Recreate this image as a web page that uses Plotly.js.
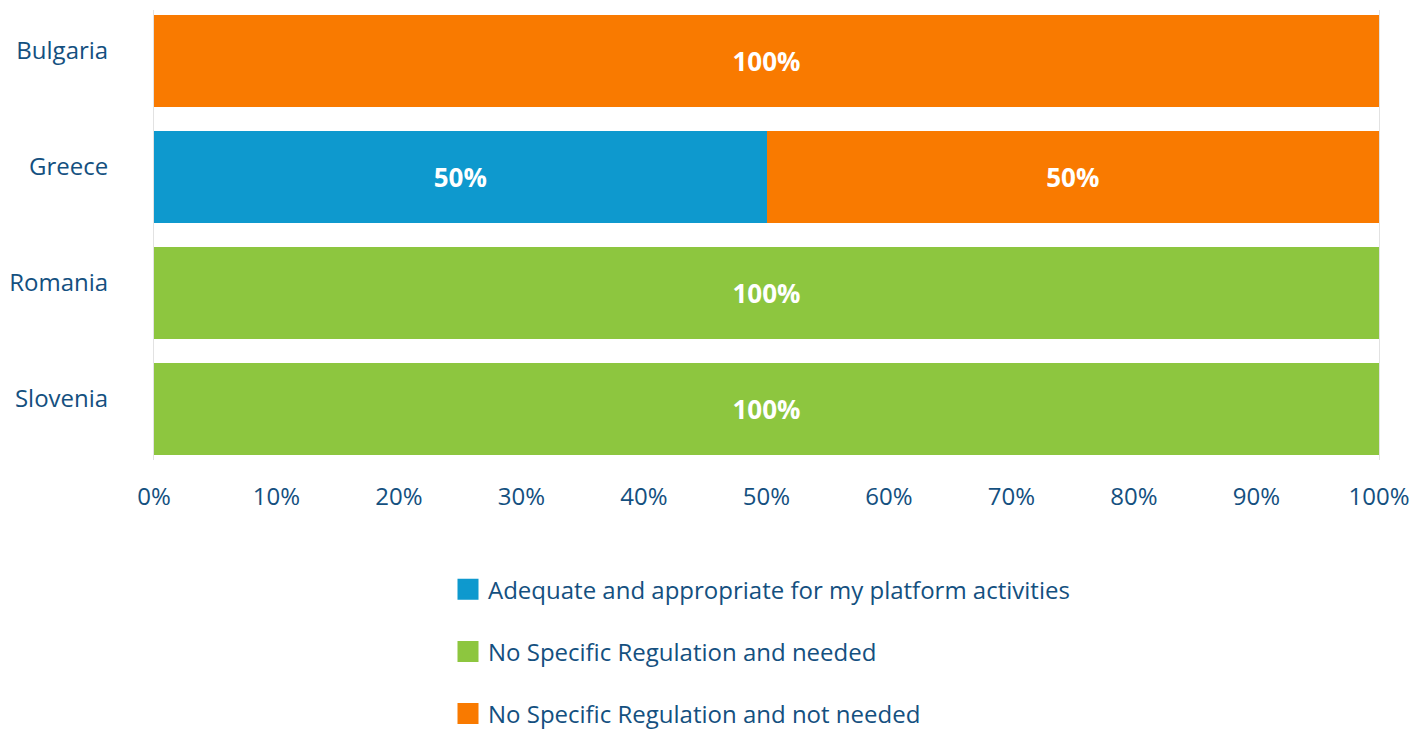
<!DOCTYPE html>
<html>
<head>
<meta charset="utf-8">
<script src="https://cdn.plot.ly/plotly-3.0.1.min.js"></script>
<style>
  html, body { margin: 0; padding: 0; background: #fff; }
  #chart { width: 1427px; height: 729px; }
</style>
</head>
<body>
<div id="chart"></div>
<script>
// Stacked horizontal bars, share of responses by country.
const countries = ["Bulgaria", "Greece", "Romania", "Slovenia"];
const seriesNames = [
  "Adequate and appropriate for my platform activities",
  "No Specific Regulation and needed",
  "No Specific Regulation and not needed"
];
const adequate = [0, 50, 0, 0];
const neededReg = [0, 0, 100, 100];
const notNeeded = [100, 50, 0, 0];
const xTicks = [0, 10, 20, 30, 40, 50, 60, 70, 80, 90, 100];

const COLORS = ["#0e99ce", "#8dc63f", "#f97a00"];
const TEXT = "#14507f";
const FONT = "Open Sans, sans-serif";

const values = [adequate, neededReg, notNeeded];

const bars = values.map((v, i) => ({
  type: "bar", orientation: "h",
  name: seriesNames[i],
  y: countries, x: v,
  marker: { color: COLORS[i] },
  text: v.map(n => n > 0 ? n + "%" : ""),
  textposition: "inside", insidetextanchor: "middle",
  textfont: { family: FONT, size: 26, color: "#fff", weight: 700 },
  constraintext: "none",
  hoverinfo: "skip",
  showlegend: false,
}));

// legend-only traces so the swatches can be bigger than bar swatches
const keys = seriesNames.map((n, i) => ({
  type: "scatter", mode: "markers",
  name: n, x: [null], y: [null],
  legendgroup: "g" + i,
  marker: { symbol: "square", size: 16, color: COLORS[i], line: { width: 5, color: COLORS[i] } },
}));

const layout = {
  barmode: "stack",
  bargap: 0.2,
  width: 1427, height: 729,
  margin: { l: 154, r: 48, t: 10, b: 269, autoexpand: false },
  paper_bgcolor: "#fff", plot_bgcolor: "#fff",
  font: { family: FONT, color: TEXT, size: 24 },
  xaxis: {
    range: [0, 100], tickvals: xTicks, ticktext: xTicks.map(t => t + "%"),
    showgrid: false, zeroline: false, showline: false,
    ticks: "", ticklabelstandoff: 20,
    tickfont: { family: FONT, size: 24, color: TEXT },
    fixedrange: true,
  },
  yaxis: {
    type: "category", categoryorder: "array", categoryarray: countries,
    range: [3.44, -0.44],
    showgrid: false, zeroline: false,
    showline: true, mirror: true, linecolor: "#e2e2e2", linewidth: 1,
    ticks: "", ticklabelstandoff: 40, ticklabelshift: 10,
    tickfont: { family: FONT, size: 24, color: TEXT },
    fixedrange: true,
  },
  showlegend: true,
  legend: {
    orientation: "v", x: 0.24, xanchor: "left", y: -0.238, yanchor: "top",
    traceorder: "grouped", tracegroupgap: 28,
    font: { family: FONT, size: 24, color: TEXT },
    bgcolor: "rgba(0,0,0,0)",
  },
};

Plotly.newPlot("chart", [...bars, ...keys], layout, { displayModeBar: false, staticPlot: true });
</script>
</body>
</html>
